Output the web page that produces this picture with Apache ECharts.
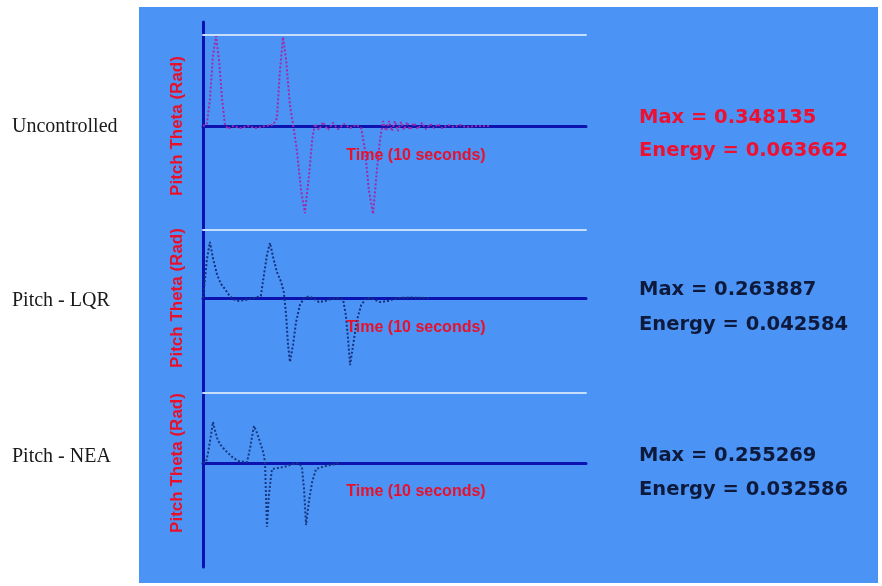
<!DOCTYPE html>
<html>
<head>
<meta charset="utf-8">
<script src="https://cdn.jsdelivr.net/npm/echarts@6/dist/echarts.min.js"></script>
<style>
  html, body { margin: 0; padding: 0; background: #fff; }
  #chart { width: 882px; height: 586px; }
</style>
</head>
<body>
<div id="chart"></div>
<script>
// time in units of the 10 s window, pitch in rad
const uncontrolled = [
  [0, 0], [0.10, 0.008], [0.18, 0.10], [0.26, 0.27], [0.34, 0.346], [0.42, 0.25],
  [0.50, 0.10], [0.57, 0.008], [0.65, -0.012], [0.78, 0], [0.97, -0.008], [1.17, 0],
  [1.38, -0.008], [1.62, 0], [1.83, 0.004], [1.93, 0.03], [2.01, 0.215], [2.09, 0.342],
  [2.17, 0.254], [2.27, 0.08], [2.35, 0.008], [2.45, -0.092], [2.56, -0.246], [2.66, -0.335],
  [2.77, -0.188], [2.85, -0.054], [2.92, 0.008], [3.03, -0.015], [3.13, 0.015], [3.26, -0.015],
  [3.39, 0.012], [3.52, -0.012], [3.68, 0.008], [3.84, -0.008], [3.99, 0.004], [4.13, -0.008],
  [4.23, -0.092], [4.33, -0.246], [4.44, -0.338], [4.54, -0.17], [4.62, -0.054], [4.70, 0.019],
  [4.78, -0.019], [4.86, 0.019], [4.93, -0.019], [5.01, 0.019], [5.09, -0.019], [5.17, 0.015],
  [5.25, -0.015], [5.33, 0.015], [5.40, -0.015], [5.51, 0.012], [5.61, -0.012], [5.72, 0.012],
  [5.82, -0.012], [5.93, 0.008], [6.03, -0.008], [6.14, 0.008], [6.24, -0.008], [6.40, 0.004],
  [6.55, -0.004], [6.71, 0.004], [6.87, -0.004], [7.10, 0], [7.50, 0]
];
const pitchLQR = [
  [0, 0], [0.05, 0.079], [0.10, 0.168], [0.18, 0.247], [0.26, 0.176], [0.37, 0.101],
  [0.47, 0.062], [0.57, 0.040], [0.68, 0.013], [0.78, -0.004], [0.89, -0.013], [0.99, -0.011],
  [1.10, -0.009], [1.23, -0.004], [1.38, 0.002], [1.51, 0.009], [1.59, 0.101], [1.67, 0.19],
  [1.75, 0.243], [1.83, 0.181], [1.93, 0.115], [2.04, 0.071], [2.11, 0.026], [2.17, -0.075],
  [2.22, -0.207], [2.27, -0.282], [2.35, -0.207], [2.43, -0.106], [2.53, -0.031], [2.64, 0],
  [2.77, 0.007], [2.90, -0.004], [3.03, -0.018], [3.19, -0.013], [3.34, -0.004], [3.52, 0],
  [3.66, -0.009], [3.73, -0.075], [3.79, -0.185], [3.84, -0.296], [3.92, -0.207], [4.02, -0.097],
  [4.13, -0.031], [4.26, 0], [4.41, -0.002], [4.62, -0.018], [4.83, -0.013], [5.07, 0],
  [5.40, 0.002], [5.93, 0]
];
const pitchNEA = [
  [0, 0], [0.08, 0.004], [0.13, 0.043], [0.21, 0.12], [0.26, 0.176], [0.31, 0.141],
  [0.37, 0.107], [0.44, 0.081], [0.57, 0.056], [0.76, 0.026], [0.91, 0.009], [1.15, 0.004],
  [1.23, 0.064], [1.33, 0.159], [1.41, 0.129], [1.49, 0.09], [1.57, 0.047], [1.62, 0.004],
  [1.64, -0.116], [1.67, -0.274], [1.72, -0.137], [1.80, -0.026], [1.96, -0.021], [2.11, -0.017],
  [2.27, -0.009], [2.45, 0], [2.58, -0.013], [2.64, -0.116], [2.69, -0.266], [2.77, -0.159],
  [2.85, -0.081], [2.95, -0.026], [3.11, -0.017], [3.32, -0.009], [3.58, 0]
];

const caseNames = ['Uncontrolled', 'Pitch - LQR', 'Pitch - NEA'];
const maxValues = ['0.348135', '0.263887', '0.255269'];
const energyValues = ['0.063662', '0.042584', '0.032586'];
const yLimits = [0.35, 0.3, 0.3];
const traceColors = ['#a02aa8', '#14307e', '#17377f'];
const statColors = ['#ee1030', '#0e1a3c', '#0e1a3c'];

const chart = echarts.init(document.getElementById('chart'));

const axisBlue = '#0c12b0';
const red = '#e8102a';
const grids = [
  { left: 203, top: 35, width: 383, height: 182 },
  { left: 203, top: 230, width: 383, height: 136 },
  { left: 203, top: 393, width: 383, height: 140 },
  { left: 203, top: 22, width: 383, height: 545 } // long left spine
];
const timeLabelY = [156, 328, 492];
const labelY = [127, 301, 457];
const statY = [[118, 151], [290, 325], [456, 490]];

const xAxes = [];
const yAxes = [];
const series = [];
const datasets = [uncontrolled, pitchLQR, pitchNEA];

for (let i = 0; i < 3; i++) {
  xAxes.push({
    gridIndex: i, type: 'value', min: 0, max: 10,
    axisLine: { onZero: true, lineStyle: { color: axisBlue, width: 3 } },
    axisTick: { show: false }, axisLabel: { show: false }, splitLine: { show: false }
  });
  xAxes.push({
    gridIndex: i, type: 'value', min: 0, max: 10, position: 'top',
    axisLine: { onZero: false, lineStyle: { color: '#c6ddfb', width: 2 } },
    axisTick: { show: false }, axisLabel: { show: false }, splitLine: { show: false }
  });
  yAxes.push({
    gridIndex: i, type: 'value', min: -yLimits[i], max: yLimits[i],
    axisLine: { show: false }, axisTick: { show: false },
    axisLabel: { show: false }, splitLine: { show: false },
    name: 'Pitch Theta (Rad)', nameLocation: 'middle', nameRotate: 90, nameGap: 17,
    nameTextStyle: {
      color: red, fontWeight: 'bold', fontSize: 17,
      fontFamily: 'Liberation Sans, Arial, sans-serif'
    }
  });
  series.push({
    type: 'line',
    xAxisIndex: i * 2, yAxisIndex: i,
    data: datasets[i],
    showSymbol: false,
    lineStyle: { color: traceColors[i], width: 2, type: [2, 2] },
    z: 3
  });
}
xAxes.push({ gridIndex: 3, type: 'value', show: false, min: 0, max: 10 });
yAxes.push({
  gridIndex: 3, type: 'value', min: 0, max: 1,
  axisLine: { show: true, lineStyle: { color: axisBlue, width: 3 } },
  axisTick: { show: false }, axisLabel: { show: false }, splitLine: { show: false }
});

const graphics = [
  { type: 'rect', z: -10, silent: true, shape: { x: 139, y: 7, width: 739, height: 576 }, style: { fill: '#4b94f6' } }
];
caseNames.forEach((name, i) => {
  graphics.push({
    type: 'text', z: 10,
    style: {
      text: name, x: 12, y: labelY[i], fill: '#1a1a1a',
      font: '20px "Liberation Serif", "Times New Roman", serif',
      textVerticalAlign: 'middle', verticalAlign: 'middle'
    }
  });
  graphics.push({
    type: 'text', z: 10,
    style: {
      text: 'Time (10 seconds)', x: 416, y: timeLabelY[i], fill: red,
      font: 'bold 16px "Liberation Sans", Arial, sans-serif',
      textAlign: 'center', align: 'center',
      textVerticalAlign: 'middle', verticalAlign: 'middle'
    }
  });
  graphics.push({
    type: 'text', z: 10,
    style: {
      text: 'Max = ' + maxValues[i], x: 639, y: statY[i][0], fill: statColors[i],
      font: 'bold 19.5px "DejaVu Sans", sans-serif',
      textVerticalAlign: 'middle', verticalAlign: 'middle'
    }
  });
  graphics.push({
    type: 'text', z: 10,
    style: {
      text: 'Energy = ' + energyValues[i], x: 639, y: statY[i][1], fill: statColors[i],
      font: 'bold 19.5px "DejaVu Sans", sans-serif',
      textVerticalAlign: 'middle', verticalAlign: 'middle'
    }
  });
});

const option = {
  backgroundColor: '#ffffff',
  animation: false,
  grid: grids,
  xAxis: xAxes,
  yAxis: yAxes,
  series: series,
  graphic: graphics
};

chart.setOption(option);
</script>
</body>
</html>
